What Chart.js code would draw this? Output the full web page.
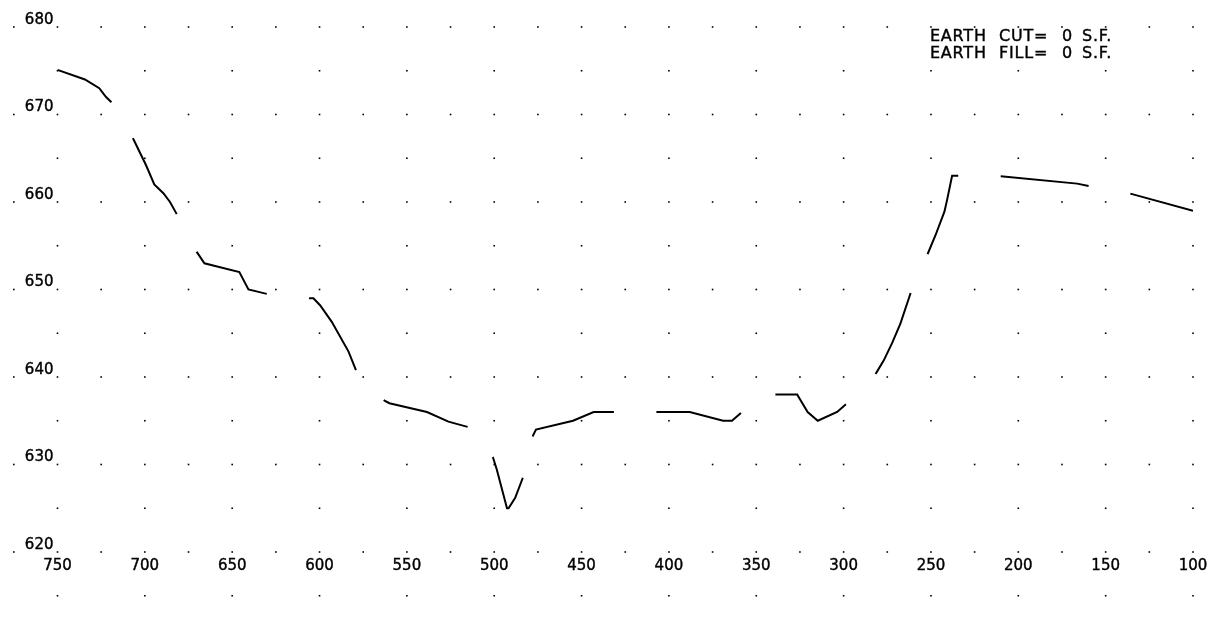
<!DOCTYPE html>
<html>
<head>
<meta charset="utf-8">
<script src="https://cdn.jsdelivr.net/npm/chart.js@4"></script>
<style>
    html, body { margin: 0; padding: 0; background: #fff; }
    #wrap { width: 1215px; height: 619px; }
</style>
</head>
<body>
<div id="wrap"><canvas id="profileChart"></canvas></div>
<script>
// ground profile, station (x) vs elevation (y)
const stations = [
    750, 734.3, 726.1, 722.2, 713.1, 706.6, 699.3, 694.6, 689.4, 685.6, 681.7,
    670.3, 665.9, 645.9, 640.7, 630.2, 605.8, 603.5, 599.7, 593.0, 583.4, 579.0,
    576.2, 562.8, 560.0, 538.5, 526.2, 515.3, 508.0, 500.7, 498.5, 492.7, 491.8,
    488.0, 483.8, 477.8, 476.1, 454.9, 443.1, 431.3, 406.5, 388.1, 369.0, 363.9,
    358.7, 348.8, 337.7, 326.6, 320.6, 314.8, 303.7, 298.0, 290.4, 281.2, 277.0,
    272.2, 267.5, 261.3, 251.6, 247.4, 242.3, 240.7, 237.9, 233.5, 213.1, 166.3,
    159.1, 134.8, 100
];
const elevations = [
    675.1, 674.0, 673.0, 672.0, 670.2, 667.2, 664.2, 662.0, 661.0, 660.0, 658.6,
    654.3, 653.0, 652.0, 650.0, 649.5, 649.0, 649.0, 648.2, 646.3, 642.9, 640.7,
    639.2, 637.3, 637.0, 636.0, 634.9, 634.3, 633.9, 630.8, 629.4, 625.0, 625.0,
    626.2, 628.4, 633.3, 634.0, 635.0, 636.0, 636.0, 636.0, 636.0, 635.0, 635.0,
    635.9, 638.0, 638.0, 638.0, 636.0, 635.0, 636.0, 637.0, 638.3, 640.5, 641.9,
    643.9, 646.1, 649.8, 654.2, 656.2, 658.9, 660.3, 663.0, 663.0, 663.0, 662.1,
    661.8, 660.9, 659.0
];
const xTicks = [750, 700, 650, 600, 550, 500, 450, 400, 350, 300, 250, 200, 150, 100];
const yTicks = [620, 630, 640, 650, 660, 670, 680];
const noteLines = [
    ["EARTH", "CUT=", "0", "S.F."],
    ["EARTH", "FILL=", "0", "S.F."]
];

const points = stations.map((s, i) => ({ x: s, y: elevations[i] }));

// dots at grid intersections, drawn through the scales
const dotGrid = {
    id: "dotGrid",
    beforeDatasetsDraw(chart) {
        const { ctx, scales: { x, y } } = chart;
        ctx.save();
        ctx.fillStyle = "#000";
        for (let v = 615; v <= 680; v += 5) {
            const major = v % 10 === 0;
            const step = major ? 25 : 50;
            const py = y.getPixelForValue(v);
            for (let u = major ? 775 : 750; u >= 100; u -= step) {
                const px = x.getPixelForValue(u);
                ctx.fillRect(px - 0.8, py - 0.8, 1.6, 1.6);
            }
        }
        ctx.restore();
    }
};

// the cut / fill note in the top right corner
const wordX = [0, 69, 132, 152];
const earthNote = {
    id: "earthNote",
    afterDraw(chart) {
        const { ctx, scales: { x, y } } = chart;
        const left = x.getPixelForValue(250) - 1;
        const top = y.getPixelForValue(680);
        ctx.save();
        ctx.fillStyle = "#000";
        ctx.strokeStyle = "#000";
        ctx.lineWidth = 0.4;
        ctx.font = "16px 'DejaVu Sans'";
        ctx.letterSpacing = "0.8px";
        ctx.textBaseline = "alphabetic";
        noteLines.forEach((words, row) => {
            words.forEach((w, i) => {
                const tx = left + wordX[i];
                const ty = top + 13.5 + row * 17;
                ctx.fillText(w, tx, ty);
                ctx.strokeText(w, tx, ty);
            });
        });
        ctx.restore();
    }
};

const tickFont = { family: "DejaVu Sans", size: 15 };

new Chart(document.getElementById("profileChart"), {
    type: "line",
    data: {
        datasets: [{
            data: points,
            borderColor: "#000",
            borderWidth: 2,
            borderDash: [88.5, 42.5],
            borderDashOffset: 24,
            pointRadius: 0,
            tension: 0,
            fill: false
        }]
    },
    options: {
        responsive: true,
        maintainAspectRatio: false,
        animation: false,
        layout: { padding: { top: 27, right: 22, left: 0, bottom: 0 } },
        plugins: {
            legend: { display: false },
            tooltip: { enabled: false }
        },
        scales: {
            x: {
                type: "linear",
                reverse: true,
                min: 100,
                max: 750,
                grid: { display: false, drawTicks: false },
                border: { display: false },
                afterBuildTicks: s => { s.ticks = xTicks.map(v => ({ value: v })); },
                afterFit: s => { s.height = 67; },
                ticks: {
                    font: tickFont, color: "#000", padding: 5, maxRotation: 0,
                    textStrokeColor: "#000", textStrokeWidth: 0.4
                }
            },
            y: {
                type: "linear",
                min: 620,
                max: 680,
                grid: { display: false, drawTicks: false },
                border: { display: false },
                afterBuildTicks: s => { s.ticks = yTicks.map(v => ({ value: v })); },
                afterFit: s => { s.width = 57.5; },
                ticks: {
                    font: tickFont, color: "#000", padding: 4, labelOffset: -7,
                    textStrokeColor: "#000", textStrokeWidth: 0.4
                }
            }
        }
    },
    plugins: [dotGrid, earthNote]
});
</script>
</body>
</html>
